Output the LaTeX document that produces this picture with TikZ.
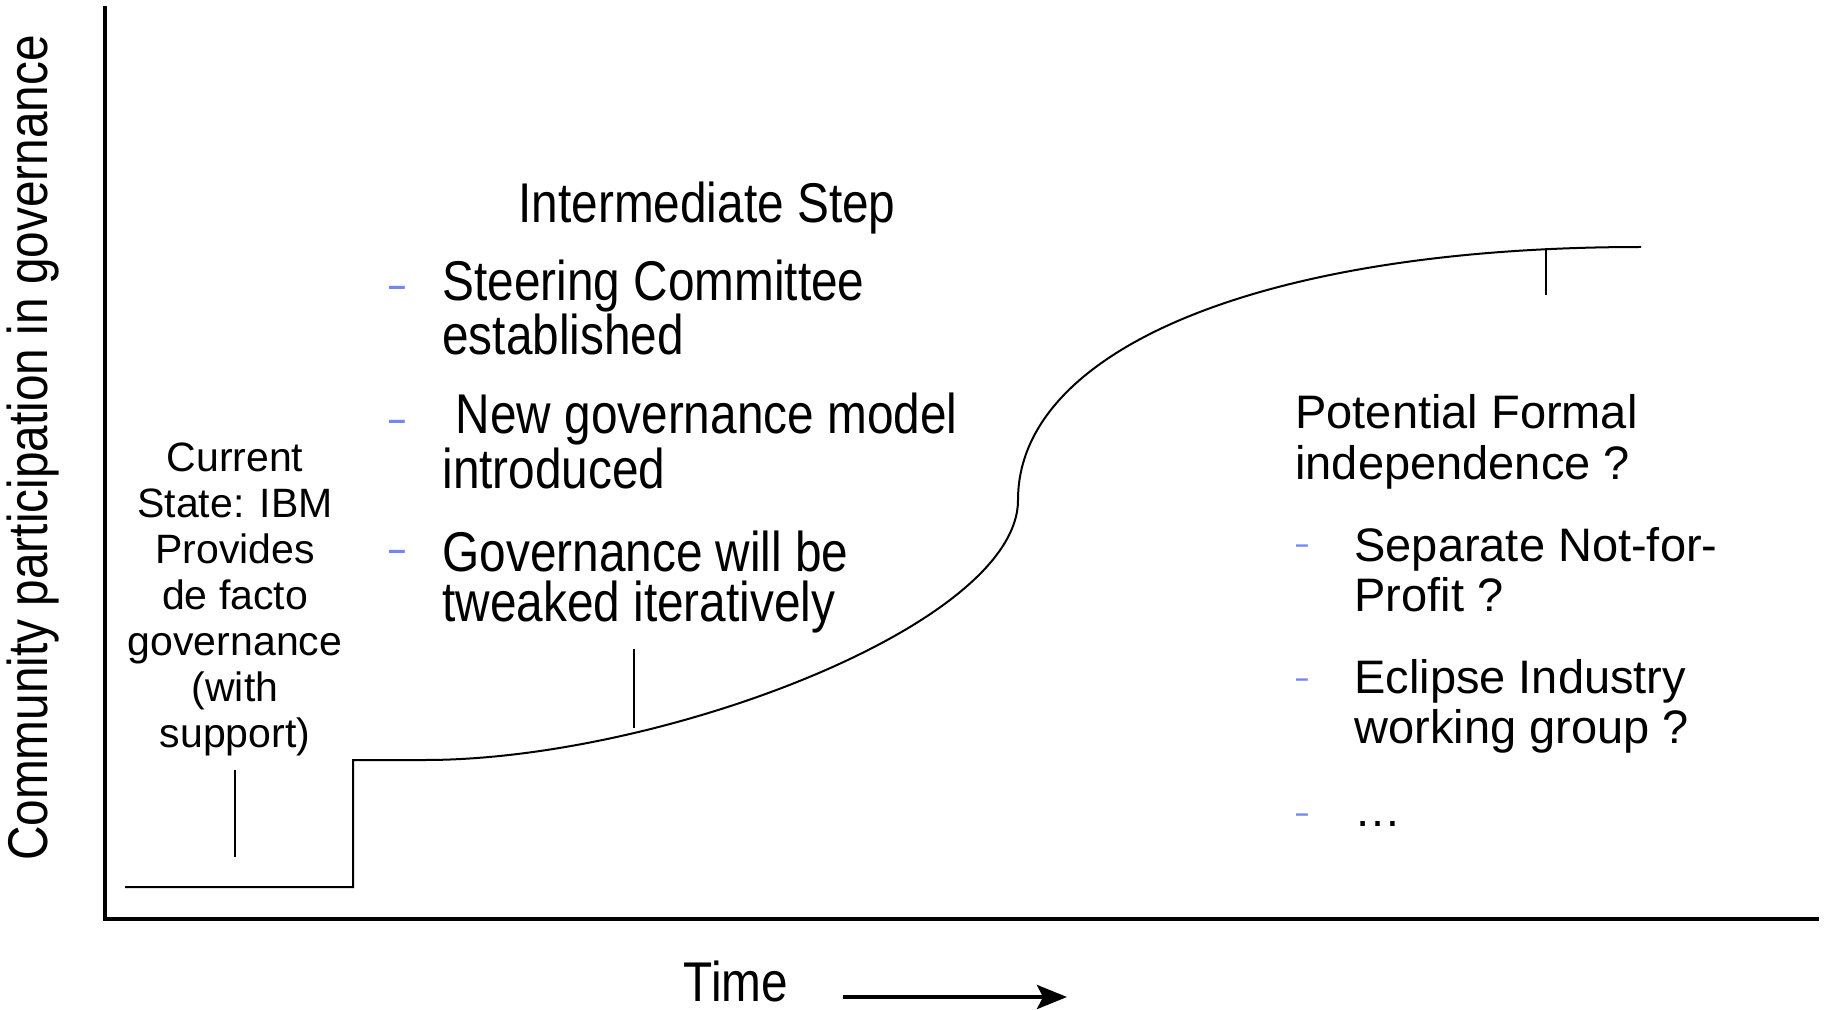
\documentclass[tikz,border=0pt]{standalone}
\usepackage{fontspec}
\setmainfont{Liberation Sans}
\newfontfamily\narrowfont[FakeStretch=0.853]{Liberation Sans}
\usetikzlibrary{arrows.meta}
\definecolor{dashblue}{RGB}{115,135,240}
\tikzset{
    narrowtext/.style={font=\narrowfont\fontsize{28pt}{25pt}\selectfont, inner sep=0pt},
    plaintext/.style={font=\fontsize{23.5pt}{25pt}\selectfont, inner sep=0pt, align=left},
    bigdash/.style={text=dashblue, inner sep=0pt, font=\bfseries\fontsize{16pt}{16pt}\selectfont},
    smalldash/.style={text=dashblue, inner sep=0pt, font=\bfseries\fontsize{12pt}{12pt}\selectfont}
}
\begin{document}
\begin{tikzpicture}[x=0.5pt,y=-0.5pt]
    \useasboundingbox (0,0) rectangle (1825,1010);
    % axes
    \draw[line width=2pt] (105,6) -- (105,919) -- (1819,919);
    \node[narrowtext, rotate=90] (ylabel) at (33,448) {Community participation in governance};
    \node[narrowtext, anchor=base] (time) at (736,1001) {Time};
    \coordinate (timeA) at (843,997);
    \coordinate (timeB) at (1067,997);
    \draw[line width=2pt, -{Stealth[length=15pt,width=12pt,inset=3pt]}] (timeA) -- (timeB);
    % growth curve
    \draw[line width=1pt] (125,887) -- (353,887) -- (353,760) -- (425,760)
        .. controls (660,760) and (1018,625) .. (1018,500)
        .. controls (1018,350) and (1260,247) .. (1641,247);
    % ticks
    \coordinate (tickA) at (235,770);
    \coordinate (tickAend) at (235,857);
    \coordinate (tickB) at (634,649);
    \coordinate (tickBend) at (634,728);
    \coordinate (tickC) at (1546,248);
    \coordinate (tickCend) at (1546,295);
    \draw[line width=1pt] (tickA) -- (tickAend);
    \draw[line width=1pt] (tickB) -- (tickBend);
    \draw[line width=1pt] (tickC) -- (tickCend);
    % current state (base = last line)
    \node[font=\fontsize{20.5pt}{23pt}\selectfont, align=center, inner sep=0pt, anchor=base] (current) at (235,747)
        {Current\\State: IBM\\Provides\\de facto\\governance\\(with\\support)};
    % intermediate step
    \node[narrowtext, anchor=base] (inter) at (707,223) {Intermediate Step};
    \node[bigdash] (d1) at (397,291) {–};
    \node[bigdash] (d2) at (397,425) {–};
    \node[bigdash] (d3) at (397,555) {–};
    \node[narrowtext, align=left, anchor=base west] (steer) at (442,355) {Steering Committee\\established};
    \node[narrowtext, align=left, anchor=base west] (newgov) at (442,488) {\ New governance model\\introduced};
    \node[narrowtext, align=left, anchor=base west] (tweak) at (442,621) {Governance will be\\tweaked iteratively};
    % formal independence
    \node[plaintext, anchor=base west] (formal) at (1295,479) {Potential Formal\\independence ?};
    \node[smalldash] (d4) at (1302,549) {–};
    \node[smalldash] (d5) at (1302,683) {–};
    \node[smalldash] (d6) at (1302,818) {–};
    \node[plaintext, anchor=base west] (nfp) at (1354,611) {Separate Not-for-\\Profit ?};
    \node[plaintext, anchor=base west] (eiwg) at (1354,743) {Eclipse Industry\\working group ?};
    \node[plaintext, anchor=base west] (more) at (1354,826) {…};
\end{tikzpicture}
\end{document}
